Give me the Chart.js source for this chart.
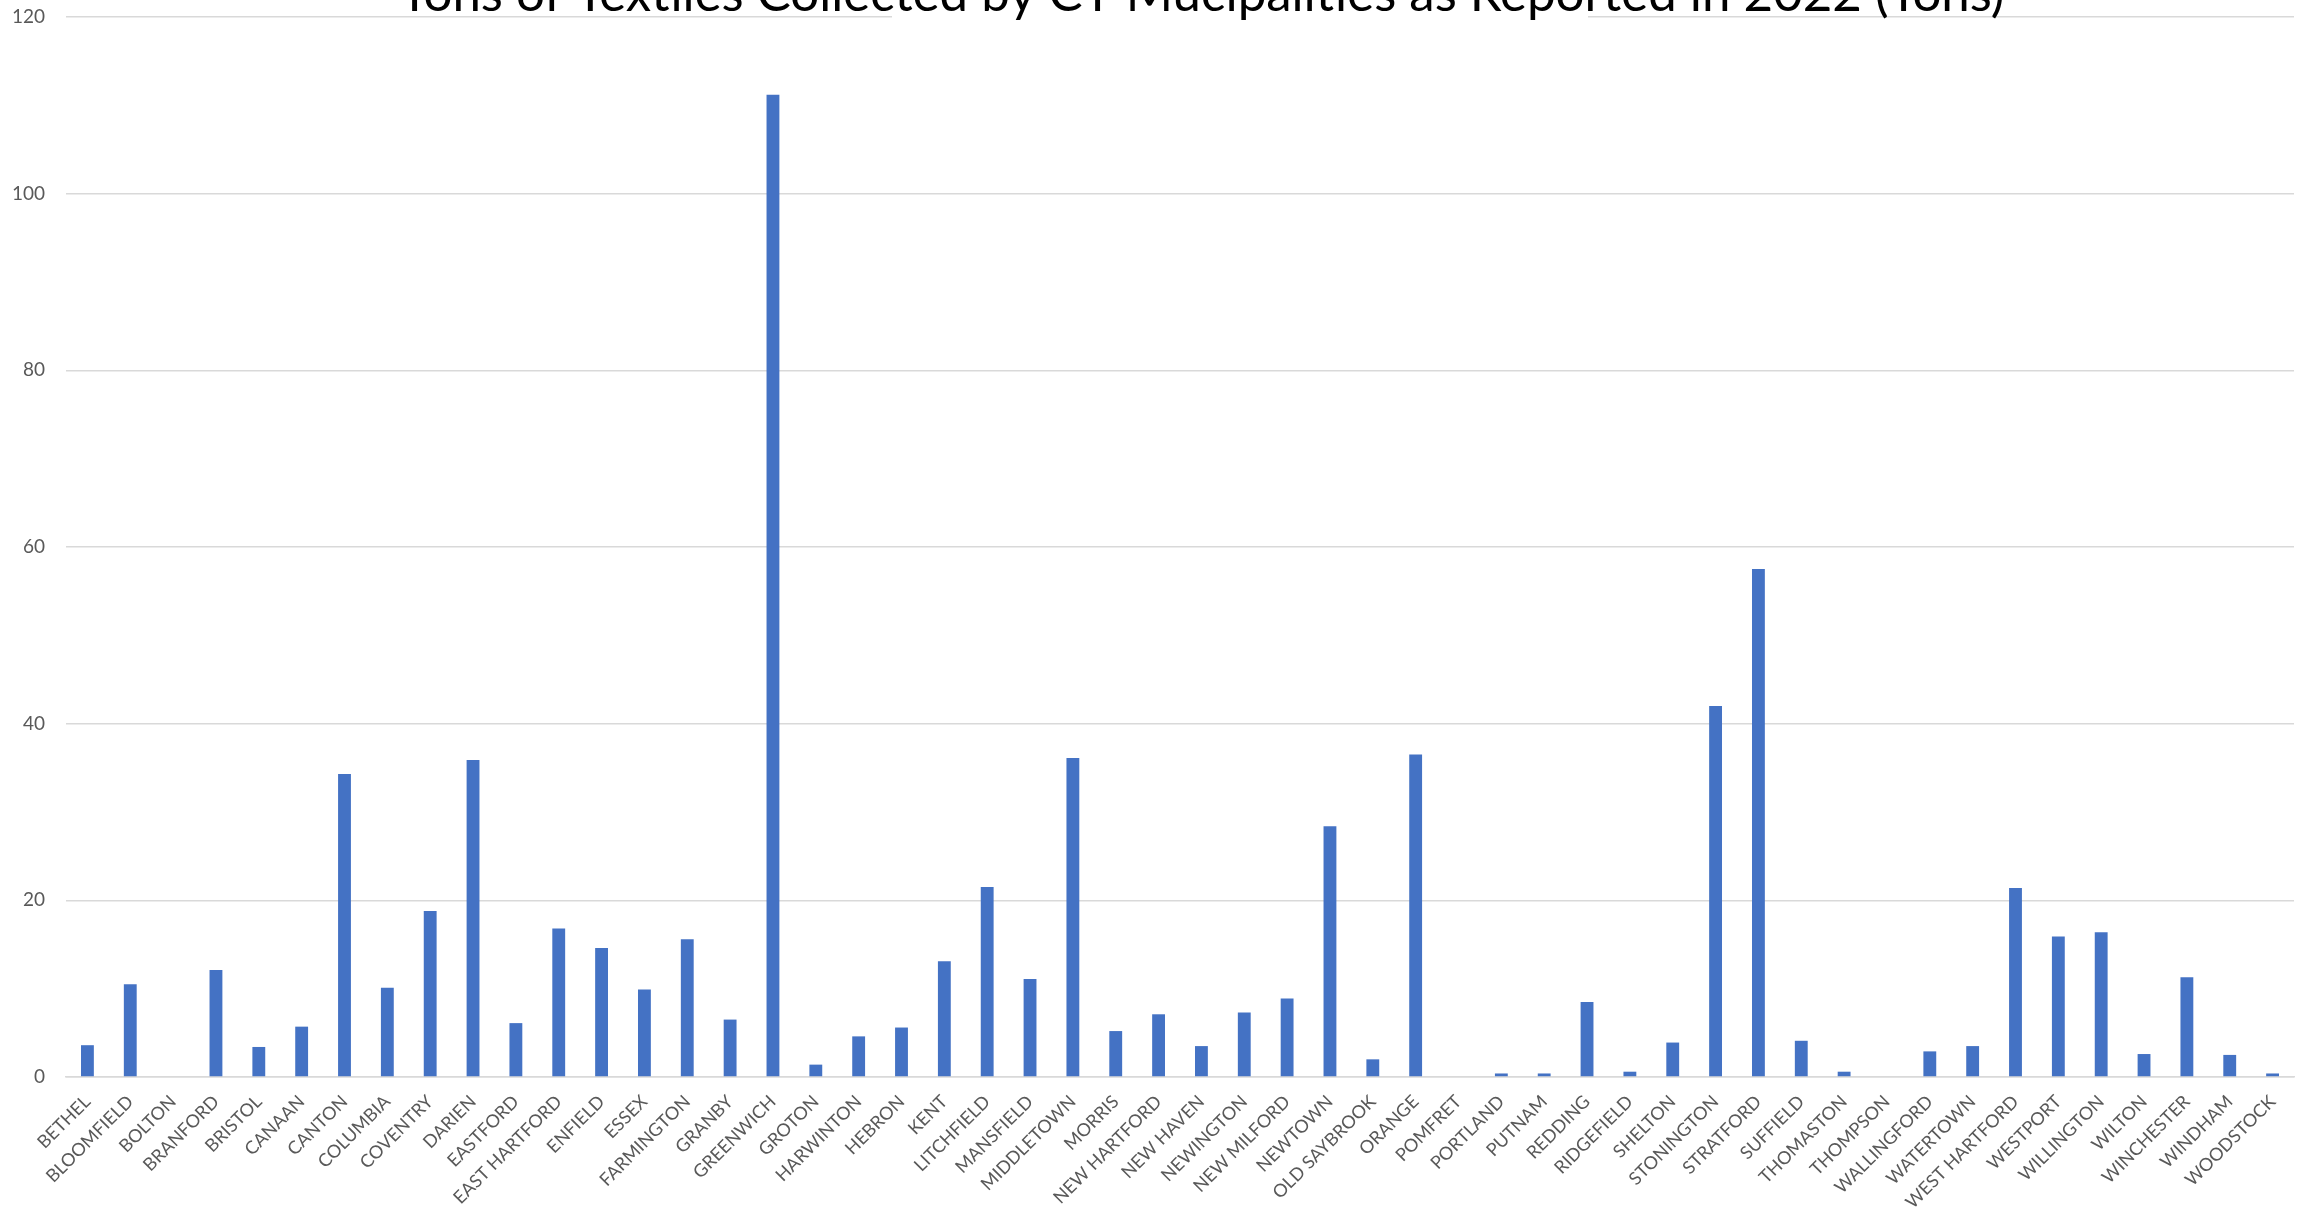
<!DOCTYPE html>
<html>
<head>
<meta charset="utf-8">
<script src="https://cdn.jsdelivr.net/npm/chart.js@4/dist/chart.umd.min.js"></script>
<style>
  html, body { margin: 0; padding: 0; background: #fff; overflow: hidden; width: 2313px; height: 1215px; }
  #c { position: absolute; left: 0; top: 0; }
</style>
</head>
<body>
<canvas id="c" width="2313" height="1215"></canvas>
<script>
const towns = ["BETHEL","BLOOMFIELD","BOLTON","BRANFORD","BRISTOL","CANAAN","CANTON","COLUMBIA","COVENTRY","DARIEN",
  "EASTFORD","EAST HARTFORD","ENFIELD","ESSEX","FARMINGTON","GRANBY","GREENWICH","GROTON","HARWINTON","HEBRON",
  "KENT","LITCHFIELD","MANSFIELD","MIDDLETOWN","MORRIS","NEW HARTFORD","NEW HAVEN","NEWINGTON","NEW MILFORD","NEWTOWN",
  "OLD SAYBROOK","ORANGE","POMFRET","PORTLAND","PUTNAM","REDDING","RIDGEFIELD","SHELTON","STONINGTON","STRATFORD",
  "SUFFIELD","THOMASTON","THOMPSON","WALLINGFORD","WATERTOWN","WEST HARTFORD","WESTPORT","WILLINGTON","WILTON","WINCHESTER",
  "WINDHAM","WOODSTOCK"];
const tons = [3.6,10.5,0,12.1,3.4,5.7,34.3,10.1,18.8,35.9,
  6.1,16.8,14.6,9.9,15.6,6.5,111.2,1.4,4.6,5.6,
  13.1,21.5,11.1,36.1,5.2,7.1,3.5,7.3,8.9,28.4,
  2.0,36.5,0,0.4,0.4,8.5,0.6,3.9,42.0,57.5,
  4.1,0.6,0,2.9,3.5,21.4,15.9,16.4,2.6,11.3,
  2.5,0.4];
const chartTitle = "Tons of Textiles Collected by CT Mucipalities as Reported in 2022 (Tons)";
const yMin = 0, yMax = 120, yStep = 20;

// target plot rectangle of the source picture
const target = { left: 66, top: 17, right: 2294, bottom: 1077 };

// Title drawn over the top gridline, partly cut off by the top edge, as in the source image
const overlayTitle = {
  id: 'overlayTitle',
  afterDraw(chart) {
    const ctx = chart.ctx;
    ctx.save();
    ctx.fillStyle = '#ffffff';
    ctx.fillRect(892, chart.chartArea.top - 4, 696, 8);
    ctx.font = 'normal 51px Lato';
    ctx.fillStyle = '#000000';
    ctx.textAlign = 'center';
    ctx.textBaseline = 'alphabetic';
    ctx.fillText(chartTitle, 1202, 11);
    ctx.restore();
  }
};

const pad = { left: 0, right: 19, top: 17, bottom: 0 };

const chart = new Chart(document.getElementById('c'), {
  type: 'bar',
  data: {
    labels: towns,
    datasets: [{
      label: 'Tons',
      data: tons,
      backgroundColor: '#4472C4',
      borderWidth: 0,
      barPercentage: 0.3,
      categoryPercentage: 1.0
    }]
  },
  plugins: [overlayTitle],
  options: {
    responsive: false,
    animation: false,
    layout: { padding: Object.assign({}, pad) },
    plugins: {
      legend: { display: false },
      tooltip: { enabled: false },
      title: { display: false }
    },
    scales: {
      x: {
        grid: { display: false },
        border: { display: true, color: '#D9D9D9', width: 1.5 },
        ticks: {
          color: '#595959',
          font: { family: 'Lato', size: 18 },
          maxRotation: 45,
          minRotation: 45,
          autoSkip: false,
          padding: 6
        },
        afterFit(scale) {
          scale.paddingLeft = 0;
          scale.paddingRight = 0;
          scale.height = 132;
        }
      },
      y: {
        min: yMin,
        max: yMax,
        grid: { color: '#D9D9D9', lineWidth: 1.5, drawTicks: false },
        border: { display: false },
        ticks: {
          stepSize: yStep,
          color: '#595959',
          font: { family: 'Lato', size: 19 },
          padding: 21
        },
        afterFit(scale) {
          scale.paddingTop = 0;
          scale.paddingBottom = 0;
        }
      }
    }
  }
});

// nudge the layout padding so the plot rectangle lands where it is in the source
for (let k = 0; k < 4; k++) {
  const ca = chart.chartArea;
  pad.left += target.left - ca.left;
  pad.top += target.top - ca.top;
  pad.right += ca.right - target.right;
  pad.bottom += ca.bottom - target.bottom;
  chart.options.layout.padding = Object.assign({}, pad);
  chart.update('none');
}
</script>
</body>
</html>
